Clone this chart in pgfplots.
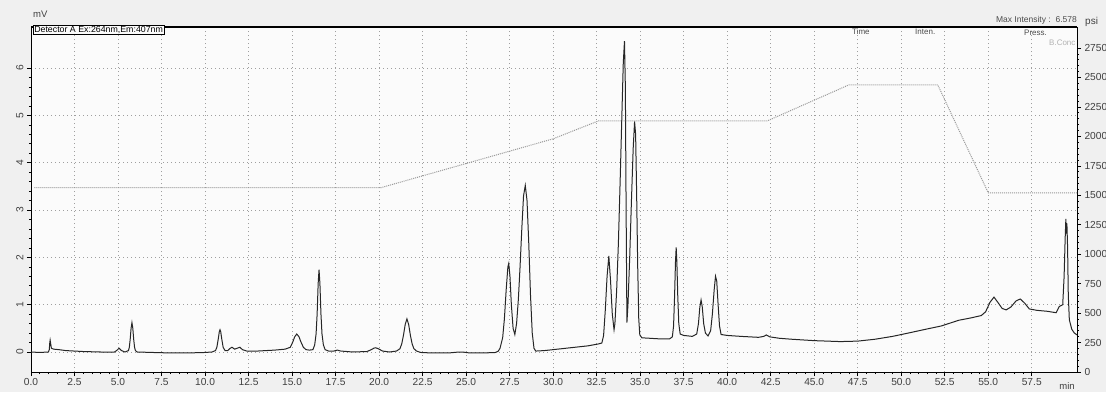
\documentclass[border=0pt]{standalone}
\usepackage{fontspec}
\setmainfont{Liberation Sans}
\usepackage{pgfplots}
\pgfplotsset{compat=1.18}
\begin{document}
\begin{tikzpicture}[x=1pt,y=1pt]
\fill[gray!12] (0,0) rectangle (1106,392);
\clip (0,0) rectangle (1106,392);
\begin{axis}[at={(31pt,20pt)}, anchor=south west, scale only axis,
  width=1046pt, height=345pt,
  xmin=0, xmax=60.1, ymin=-0.4226, ymax=6.867,
  axis background/.style={fill=gray!3},
  axis line style={black, line width=0.9pt},
  xtick={0,2.5,...,57.5}, minor x tick num=4,
  ytick={0,1,...,6}, minor y tick num=4,
  xtick pos=bottom, ytick pos=left,
  tick align=outside, major tick length=4pt, minor tick length=2.2pt,
  every tick/.style={black, line width=0.6pt},
  grid=major, grid style={dash pattern=on 1pt off 3pt, gray!75, line width=0.7pt},
  /pgf/number format/assume math mode=true,
  ticklabel style={font=\fontsize{10.2}{11}\selectfont, text=black!75},
  xticklabel style={/pgf/number format/fixed, /pgf/number format/precision=1, /pgf/number format/fixed zerofill, yshift=1pt},
  yticklabel style={rotate=90, anchor=south},
  clip=true,
]
\addplot[black!85, line width=1pt] coordinates {
(0,0.0)(0.5,-0.01)(1.0,0.0)(1.05,0.05)(1.08,0.2)(1.1,0.25)(1.13,0.18)(1.17,0.08)(1.3,0.06)(1.6,0.05)(2,0.03)(3,0.01)(4,0.0)(4.8,0.0)(4.95,0.04)(5.06,0.08)(5.2,0.03)(5.4,0.0)
(5.6,0.03)(5.65,0.1)(5.7,0.27)(5.75,0.5)(5.8,0.62)(5.85,0.5)(5.9,0.27)(5.95,0.1)(6.0,0.03)(6.1,0.0)(7,-0.01)(8,-0.02)(9,-0.02)(10,-0.01)(10.4,0.0)
(10.6,0.03)(10.68,0.1)(10.77,0.3)(10.82,0.43)(10.86,0.47)(10.9,0.43)(10.95,0.3)(11.04,0.1)(11.15,0.03)(11.3,0.03)(11.45,0.08)(11.55,0.1)(11.7,0.06)(11.85,0.08)(12.0,0.1)(12.15,0.05)(12.4,0.02)(13,0.02)(14,0.04)(14.6,0.06)
(14.9,0.1)(15.05,0.22)(15.15,0.32)(15.27,0.38)(15.4,0.32)(15.5,0.22)(15.65,0.1)(15.8,0.05)(16.0,0.04)
(16.2,0.05)(16.3,0.15)(16.38,0.38)(16.44,0.8)(16.5,1.45)(16.55,1.74)(16.6,1.45)(16.66,0.8)(16.72,0.38)(16.8,0.15)(16.9,0.05)(17.1,0.02)(17.4,0.02)(17.6,0.04)(17.8,0.02)(18.5,0.0)(19.3,0.01)
(19.5,0.04)(19.7,0.08)(19.8,0.09)(19.95,0.07)(20.2,0.02)(20.6,0.0)(21.0,0.02)
(21.2,0.07)(21.3,0.17)(21.4,0.35)(21.5,0.58)(21.6,0.7)(21.7,0.58)(21.8,0.35)(21.9,0.17)(22.0,0.07)(22.15,0.02)(22.4,-0.01)(23,-0.02)(24,-0.02)(24.6,0.0)(24.8,0.0)(25.2,-0.02)(26,-0.02)(26.7,-0.01)
(26.85,0.02)(26.95,0.08)(27.1,0.3)(27.2,0.7)(27.3,1.3)(27.4,1.8)(27.45,1.87)(27.52,1.6)(27.6,1.0)(27.7,0.5)(27.8,0.37)(27.9,0.6)(28.0,1.1)(28.1,1.8)(28.2,2.6)(28.3,3.3)(28.4,3.52)(28.5,3.2)(28.6,2.3)(28.7,1.2)(28.8,0.4)(28.9,0.08)(29.0,0.02)(29.5,0.03)(30,0.05)(31,0.09)(32,0.13)(32.6,0.17)
(32.8,0.19)(32.9,0.35)(33.0,0.9)(33.1,1.6)(33.2,2.03)(33.3,1.5)(33.4,0.8)(33.5,0.47)(33.55,0.6)(33.65,1.3)(33.75,2.3)(33.85,3.6)(33.95,5.0)(34.03,6.1)(34.1,6.57)(34.15,5.6)(34.19,3.2)(34.24,0.62)(34.3,1.0)(34.4,2.0)(34.5,3.2)(34.6,4.3)(34.68,4.87)(34.74,4.6)(34.8,3.3)(34.86,1.8)(34.92,0.7)(34.98,0.36)(35.1,0.3)(36,0.28)(36.7,0.28)
(36.85,0.32)(36.92,0.55)(36.98,1.2)(37.03,1.9)(37.07,2.21)(37.11,1.9)(37.16,1.2)(37.22,0.6)(37.3,0.38)(37.5,0.35)(38.0,0.33)(38.25,0.38)(38.35,0.6)(38.43,0.95)(38.5,1.1)(38.57,0.95)(38.65,0.6)(38.75,0.4)(38.9,0.34)(39.05,0.45)(39.15,0.8)(39.25,1.3)(39.33,1.6)(39.4,1.5)(39.48,1.0)(39.56,0.55)(39.65,0.37)(40,0.35)(40.8,0.33)(41.8,0.31)(42.1,0.33)(42.25,0.36)(42.45,0.32)(43,0.29)(43.7,0.27)(45,0.24)(46.5,0.22)(47.5,0.23)(48.5,0.27)(49.5,0.33)(50.4,0.40)(51.4,0.48)(52.3,0.55)(53.3,0.67)(54,0.72)(54.6,0.77)
(54.85,0.85)(55.1,1.05)(55.33,1.16)(55.55,1.05)(55.8,0.92)(56.03,0.89)(56.3,0.95)(56.6,1.08)(56.84,1.12)(57.1,1.03)(57.36,0.91)(57.8,0.88)(58.4,0.86)(58.9,0.83)(59.08,0.96)(59.28,1.0)(59.36,1.6)(59.42,2.4)(59.46,2.81)(59.49,2.5)(59.52,2.72)(59.56,2.2)(59.6,1.2)(59.66,0.68)(59.8,0.48)(59.95,0.4)(60.15,0.35)
};
\end{axis}
\begin{axis}[at={(31pt,20pt)}, anchor=south west, scale only axis,
  width=1046pt, height=345pt,
  xmin=0, xmax=60.1, ymin=0, ymax=2928,
  axis x line=none, axis y line*=right,
  axis line style={black, line width=0.9pt},
  ytick={0,250,...,2750}, minor y tick num=4,
  tick align=outside, major tick length=4pt, minor tick length=2.2pt,
  every tick/.style={black, line width=0.6pt},
  /pgf/number format/assume math mode=true,
  /pgf/number format/1000 sep={},
  ticklabel style={font=\fontsize{10.2}{11}\selectfont, text=black!75},
]
\addplot[gray!80, densely dotted, line width=1pt] coordinates {
(0.2,1564)(20.1,1564)(30.0,1979)(32.6,2131)(42.3,2131)(47.0,2437)(52.1,2437)(55.0,1521)(60.1,1521)
};
\end{axis}
\draw[black, line width=1.3pt] (31,365) -- (1077,365);
\node[anchor=base west, font=\fontsize{9.5}{10}\selectfont, text=black!75, inner sep=0pt] at (33,374) {mV};
\node[anchor=base east, font=\fontsize{8.5}{10}\selectfont, text=black!70, inner sep=0pt] at (1077,369) {Max Intensity :\ \ 6.578};
\node[anchor=base west, font=\fontsize{10}{10}\selectfont, text=black!75, inner sep=0pt] at (1085,367) {psi};
\node[anchor=base west, font=\fontsize{8}{9}\selectfont, text=black!70, inner sep=0pt] at (852,357) {Time};
\node[anchor=base west, font=\fontsize{8}{9}\selectfont, text=black!70, inner sep=0pt] at (915,357) {Inten.};
\node[anchor=base west, font=\fontsize{8}{9}\selectfont, text=black!70, inner sep=0pt] at (1024,356) {Press.};
\node[anchor=base west, font=\fontsize{8}{9}\selectfont, text=black!30, inner sep=0pt] at (1049,346) {B.Conc};
\node[anchor=base, font=\fontsize{9.5}{10}\selectfont, text=black!75, inner sep=0pt] at (1067,3) {min};
\node[anchor=north west, draw=black, line width=0.6pt, fill=gray!3, font=\fontsize{8.8}{10}\selectfont, inner xsep=1pt, inner ysep=0.8pt] at (33,367) {Detector A Ex:264nm,Em:407nm};
\end{tikzpicture}
\end{document}
